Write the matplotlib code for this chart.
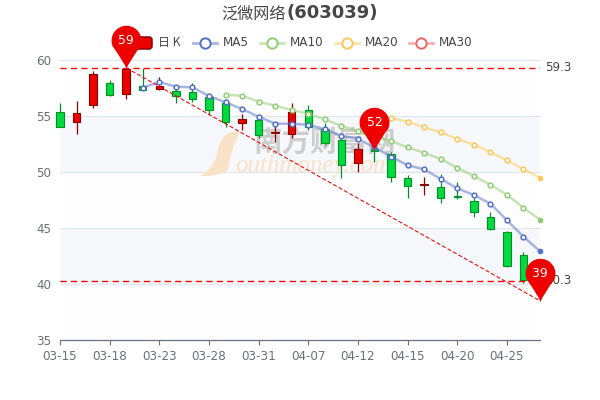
import numpy as np
import matplotlib
matplotlib.use('Agg')
from matplotlib import pyplot as plt
from matplotlib.path import Path
from matplotlib.patches import PathPatch, FancyBboxPatch

# data
dates = ['03-15', '03-18', '03-23', '03-28', '03-31', '04-07', '04-12', '04-15', '04-20', '04-25']
opens = [55.33, 54.49, 55.95, 57.95, 56.94, 57.68, 57.38, 57.26, 57.11, 56.70,
         56.16, 54.40, 54.64, 53.45, 53.42, 55.50, 53.80, 52.86, 50.78, 52.03,
         51.58, 49.50, 48.80, 48.66, 47.83, 47.38, 45.98, 44.67, 42.60, 41.00]
closes = [53.99, 55.24, 58.75, 56.87, 59.20, 57.35, 57.71, 56.81, 56.52, 55.56,
          54.44, 54.70, 53.33, 53.55, 55.38, 54.00, 52.60, 50.63, 52.03, 51.90,
          49.52, 48.75, 48.90, 47.68, 47.75, 46.43, 44.88, 41.60, 40.35, 39.20]
lows = [53.99, 53.40, 55.69, 56.79, 56.52, 57.35, 57.30, 56.13, 56.28, 55.09,
        54.04, 53.75, 53.00, 52.65, 53.00, 53.75, 52.40, 49.50, 49.97, 50.87,
        49.13, 47.65, 47.95, 47.20, 47.56, 46.00, 44.80, 41.50, 40.10, 38.50]
highs = [56.13, 56.30, 59.02, 58.21, 59.30, 59.30, 58.45, 57.60, 57.97, 57.00,
         56.30, 55.18, 54.94, 54.40, 56.20, 56.00, 54.40, 53.00, 52.60, 52.50,
         51.80, 49.73, 49.53, 49.80, 49.08, 47.65, 46.40, 44.70, 42.88, 41.20]

ma5 = [57.53, 58.04, 57.62, 57.56, 56.79, 56.22, 55.62, 54.94, 54.31, 54.31, 54.22, 53.81, 53.24,
       52.95, 52.20, 51.37, 50.60, 50.24, 49.38, 48.54, 47.95, 47.17, 45.70, 44.23, 42.92]
ma10 = [56.88, 56.81, 56.28, 55.92, 55.54, 55.20, 54.70, 54.10, 53.63, 53.15, 52.77,
        52.20, 51.72, 51.16, 50.38, 49.64, 48.87, 47.97, 46.81, 45.74]
ma20 = [54.82, 54.49, 54.00, 53.54, 52.95, 52.44, 51.79, 51.04, 50.24, 49.49]

max_line = 59.3
min_line = 40.3
pin_idx = [4, 19, 29]
pin_vals = [59.3, 51.96, 38.5]
pin_labels = ['59', '52', '39']

UP = '#ec0000'
UP_EDGE = '#8a0000'
DOWN = '#00da3c'
DOWN_EDGE = '#008f28'
GRAY = '#6e7079'
TEXT = '#464646'


def pin_marker():
    # tip on the origin, circle above it
    r = 14.9
    cy = 27.7
    ang = np.radians(np.linspace(-22, 202, 40))
    xs = r * np.cos(ang)
    ys = cy + r * np.sin(ang)
    verts = list(zip(xs, ys))
    codes = [Path.MOVETO] + [Path.LINETO] * (len(verts) - 1)
    verts += [(-3, 7), (0, 0), (3, 7), (xs[0], ys[0])]
    codes += [Path.CURVE3, Path.CURVE3, Path.CURVE3, Path.CURVE3]
    return Path(verts, codes)


fig = plt.figure(figsize=(6, 4), dpi=100)

# overlay in pixel coordinates, for title and legend
bg = fig.add_axes([0, 0, 1, 1], zorder=0)
bg.set_xlim(0, 600)
bg.set_ylim(400, 0)
bg.axis('off')
px = bg.transData

ax = fig.add_axes([60 / 600, 60 / 400, 480 / 600, 280 / 400], zorder=1)
ax.patch.set_alpha(0)
ax.set_xlim(0, 29)
ax.set_ylim(35, 60)

# split areas and grid
for lo, col in zip([55, 50, 45, 40, 35], ['#fefefe', '#f6f8fb', '#fefefe', '#f6f8fb', '#fefefe']):
    ax.axhspan(lo, lo + 5, color=col, lw=0, zorder=0)
for v in [40, 45, 50, 55, 60]:
    ax.axhline(v, color='#e0e6f1', lw=0.8, zorder=1, clip_on=False)

# watermark
swoosh = Path([(240, 132), (222, 129), (218, 150), (215, 168), (200, 176),
               (218, 177), (228, 170), (231, 148), (240, 132)],
              [Path.MOVETO, Path.CURVE3, Path.CURVE3, Path.CURVE3, Path.CURVE3,
               Path.CURVE3, Path.CURVE3, Path.CURVE3, Path.CURVE3])
ax.add_patch(PathPatch(swoosh, fc='#f9e2c8', ec='none', transform=px, zorder=1.5, clip_on=False))
ax.text(235, 172, 'outhmoney.com', family='Liberation Serif', style='italic', fontsize=18,
        color='#f9e2c8', transform=px, zorder=1.5, va='baseline', ha='left')
ax.text(325, 143, '南方财富网', family='Noto Sans CJK SC', weight='bold', fontsize=20.5,
        color='#c6c6c6', alpha=0.85, transform=px, zorder=1.6, va='center', ha='center')

# candles
idx = np.arange(len(opens))
o = np.array(opens)
c = np.array(closes)
up = c >= o
edge = [UP_EDGE if u else DOWN_EDGE for u in up]
face = [UP if u else DOWN for u in up]
ax.vlines(idx, lows, highs, colors=edge, lw=0.9, zorder=2, clip_on=False)
ax.bar(idx, np.abs(c - o), bottom=np.minimum(o, c), width=0.45, color=face, edgecolor=edge,
       linewidth=0.8, zorder=3, clip_on=False)

# moving averages
for vals, col in [(ma5, '#5470c6'), (ma10, '#91cc75'), (ma20, '#fac858')]:
    xs = idx[len(idx) - len(vals):]
    ax.plot(xs, vals, color=col, alpha=0.5, lw=1.8, zorder=4, clip_on=False)
    ax.plot(xs[:-1], vals[:-1], ls='none', marker='o', ms=3.4, mfc='white', mec=col, mew=1.1,
            zorder=5, clip_on=False)
    ax.plot(xs[-1:], vals[-1:], ls='none', marker='o', ms=3.6, mfc=col, mec=col, mew=0.5,
            zorder=5, clip_on=False)

# mark lines
dash = (4.5, 3)
ax.axhline(max_line, color='#ff0000', lw=1.0, dashes=dash, zorder=6)
ax.axhline(min_line, color='#ff0000', lw=1.0, dashes=dash, zorder=6)
ax.plot([pin_idx[0], pin_idx[2]], [pin_vals[0], pin_vals[2]], color='#f00000', lw=0.75,
        dashes=(4, 2), zorder=6, clip_on=False)
for v in [max_line, min_line]:
    ax.annotate('%.1f' % v, (1, v), xycoords=('axes fraction', 'data'), xytext=(3.8, 0),
                textcoords='offset points', va='center', ha='left', fontsize=8.64, color=TEXT, zorder=6)

# pins
ax.plot(pin_idx, pin_vals, ls='none', marker=pin_marker(), ms=61.5, mfc='#ee0000', mec='none',
        zorder=8, clip_on=False)
for i, v, s in zip(pin_idx, pin_vals, pin_labels):
    ax.annotate(s, (i, v), xytext=(0, 20), textcoords='offset points', ha='center', va='center',
                fontsize=8.9, color='white', zorder=9)

# axes
for s in ['top', 'left', 'right']:
    ax.spines[s].set_visible(False)
ax.spines['bottom'].set_color(GRAY)
ax.spines['bottom'].set_linewidth(0.9)
ax.spines['bottom'].set_zorder(7)
ax.set_xticks(idx[::3][:len(dates)])
ax.set_xticklabels(dates)
ax.set_yticks([35, 40, 45, 50, 55, 60])
ax.tick_params(axis='x', length=3.6, width=0.8, color=GRAY, labelcolor=GRAY, labelsize=8.64, pad=3.4)
ax.tick_params(axis='y', length=0, labelcolor=GRAY, labelsize=8.64, pad=6.2)

# title
bg.text(221, 14, '泛微网络', family='Noto Sans CJK SC', fontsize=11.6, color=TEXT, ha='left', va='center')
bg.text(286, 13.5, '(603039)', family='DejaVu Sans', weight='bold', fontsize=13, color=TEXT, ha='left', va='center')

# legend
bg.add_patch(FancyBboxPatch((128, 37), 24, 12, boxstyle='round,pad=0,rounding_size=3',
                            fc=UP, ec=UP_EDGE, lw=1.1))
bg.text(158.5, 42.5, '日 K', family=['Noto Sans CJK SC', 'DejaVu Sans'], fontsize=8.64, color=TEXT,
        ha='left', va='center')
legend_names = ['MA5', 'MA10', 'MA20', 'MA30']
legend_cols = ['#5470c6', '#91cc75', '#fac858', '#ee6666']
legend_x = [193, 260, 335, 409]
for name, col, x0 in zip(legend_names, legend_cols, legend_x):
    bg.plot([x0, x0 + 24], [42.5, 42.5], color=col, alpha=0.5, lw=2)
    bg.plot([x0 + 12], [42.5], ls='none', marker='o', ms=7.4, mfc='white', mec=col, mew=1.4)
    bg.text(x0 + 29.5, 42.5, name, fontsize=8.64, color=TEXT, ha='left', va='center')

fig.savefig('out.png', dpi=100)
